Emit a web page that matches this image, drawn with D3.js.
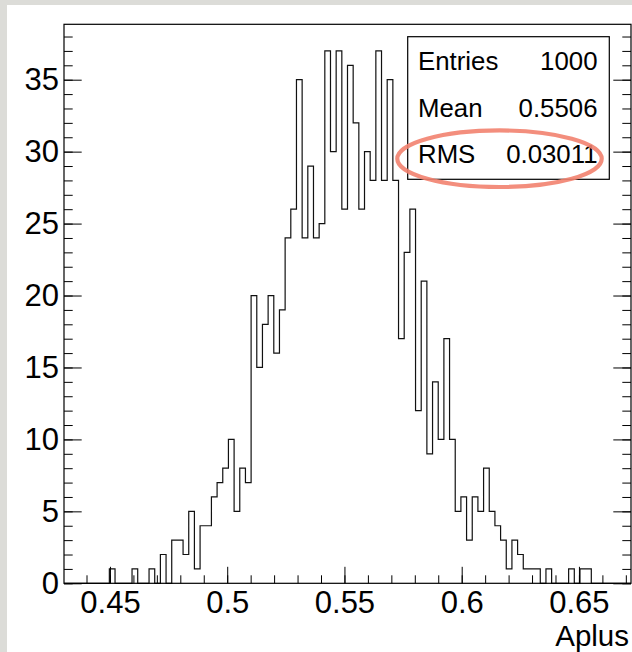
<!DOCTYPE html>
<html>
<head>
<meta charset="utf-8">
<script src="https://cdn.jsdelivr.net/npm/d3@7"></script>
<style>
  html, body { margin: 0; padding: 0; background: #dcdcd8; }
  svg { display: block; }
  text { font-family: "Liberation Sans", Arial, Helvetica, sans-serif; fill: #000; }
</style>
</head>
<body>
<svg id="chart" width="632" height="652"></svg>
<script>
// ---- data ----
const binLow = 0.4304;      // lower edge of the histogram
const binWidth = 0.002418;  // width of each bin
const counts = [
  0, 0, 0, 0, 0, 0, 0, 0, 1, 0,
  0, 0, 1, 0, 0, 1, 0, 2, 0, 3,
  3, 2, 5, 1, 4, 4, 6, 7, 8, 10,
  5, 8, 7, 20, 15, 18, 20, 16, 19, 24,
  26, 35, 24, 29, 24, 25, 37, 30, 37, 26,
  36, 32, 26, 30, 28, 37, 28, 35, 28, 17,
  23, 26, 12, 21, 9, 14, 10, 17, 10, 5,
  6, 3, 6, 5, 8, 5, 4, 3, 1, 3,
  2, 1, 1, 1, 0, 1, 0, 0, 0, 1,
  0, 1, 1, 0, 0, 0, 0, 0, 0, 0
];
const xMajorTicks = [0.45, 0.5, 0.55, 0.6, 0.65];
const xTickLabels = ["0.45", "0.5", "0.55", "0.6", "0.65"];
const xMinorTicks = [0.44, 0.45, 0.46, 0.47, 0.48, 0.49, 0.5, 0.51, 0.52, 0.53, 0.54, 0.55, 0.56, 0.57, 0.58, 0.59, 0.6, 0.61, 0.62, 0.63, 0.64, 0.65, 0.66, 0.67];
const yMajorTicks = [0, 5, 10, 15, 20, 25, 30, 35];
const yMinorTicks = d3.range(0, 39, 1);
const statLabels = ["Entries", "Mean", "RMS"];
const statValues = ["1000", "0.5506", "0.03011"];
const xTitle = "Aplus";
const yMax = 37 * 1.05;

// ---- layout ----
const svg = d3.select("#chart");
const frame = { left: 64, right: 631, top: 24.3, bottom: 583.3 };
const font = "Liberation Sans, Arial, Helvetica, sans-serif";

// white slide panel
svg.append("rect").attr("x", 7).attr("y", 5).attr("width", 632 - 7).attr("height", 652 - 5).attr("fill", "#fff");

const nBins = counts.length;
const x = d3.scaleLinear().domain([binLow, binLow + nBins * binWidth]).range([frame.left, frame.right]);
const y = d3.scaleLinear().domain([0, yMax]).range([frame.bottom, frame.top]);

// histogram outline
const pts = [[binLow, 0]];
counts.forEach((c, i) => {
  const lo = binLow + i * binWidth, hi = lo + binWidth;
  pts.push([lo, c]); pts.push([hi, c]);
});
pts.push([binLow + nBins * binWidth, 0]);
const line = d3.line().x(d => x(d[0])).y(d => y(d[1]));
svg.append("path").attr("d", line(pts)).attr("fill", "none").attr("stroke", "#111").attr("stroke-width", 1.2);

// axes
const gx = svg.append("g").attr("transform", `translate(0,${frame.bottom})`);
gx.call(d3.axisBottom(x).tickValues(xMinorTicks).tickSize(-8).tickSizeOuter(0).tickFormat(""));
gx.append("g").call(d3.axisBottom(x).tickValues(xMajorTicks).tickSize(-16.5).tickSizeOuter(0).tickPadding(8)
  .tickFormat((d, i) => xTickLabels[i]));
gx.selectAll("path.domain").remove();
gx.selectAll("line").attr("stroke", "#000").attr("stroke-width", 1);
gx.selectAll("text").attr("font-family", font).attr("font-size", 31).attr("fill", "#000");

const gy = svg.append("g").attr("transform", `translate(${frame.left},0)`);
gy.call(d3.axisLeft(y).tickValues(yMinorTicks).tickSize(-8.7).tickSizeOuter(0).tickFormat(""));
gy.append("g").call(d3.axisLeft(y).tickValues(yMajorTicks).tickSize(-17.7).tickSizeOuter(0).tickPadding(5)
  .tickFormat(d3.format("d")));
gy.selectAll("path.domain").remove();
gy.selectAll("line").attr("stroke", "#000").attr("stroke-width", 1);
gy.selectAll("text").attr("font-family", font).attr("font-size", 31).attr("fill", "#000");

const gr = svg.append("g").attr("transform", `translate(${frame.right},0)`);
gr.call(d3.axisRight(y).tickValues(yMinorTicks).tickSize(-8.7).tickSizeOuter(0).tickFormat(""));
gr.append("g").call(d3.axisRight(y).tickValues(yMajorTicks).tickSize(-17.7).tickSizeOuter(0).tickFormat(""));
gr.selectAll("path.domain").remove();
gr.selectAll("line").attr("stroke", "#000").attr("stroke-width", 1);

// frame
svg.append("rect").attr("x", frame.left).attr("y", frame.top)
  .attr("width", frame.right - frame.left).attr("height", frame.bottom - frame.top)
  .attr("fill", "none").attr("stroke", "#000").attr("stroke-width", 1.2);

// x title
svg.append("text").attr("x", 629).attr("y", 646).attr("text-anchor", "end")
  .attr("font-size", 29.5).text(xTitle);

// stats box
const box = { x: 407.7, y: 36.7, w: 201.6, h: 142.6 };
svg.append("rect").attr("x", box.x).attr("y", box.y).attr("width", box.w).attr("height", box.h)
  .attr("fill", "#fff").attr("stroke", "#000").attr("stroke-width", 1.2);
const rowBase = [70, 116.5, 163.3];
statLabels.forEach((lab, i) => {
  svg.append("text").attr("x", 418).attr("y", rowBase[i]).attr("font-size", 25.8).text(lab);
  svg.append("text").attr("x", 597.5).attr("y", rowBase[i]).attr("font-size", 25.8)
    .attr("text-anchor", "end").text(statValues[i]);
});

// highlight ellipse
svg.append("ellipse").attr("cx", 499.5).attr("cy", 158.7).attr("rx", 102.2).attr("ry", 28.3)
  .attr("fill", "none").attr("stroke", "#f2826f").attr("stroke-opacity", 0.9).attr("stroke-width", 4.2);
</script>
</body>
</html>
